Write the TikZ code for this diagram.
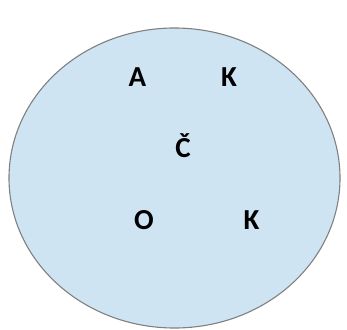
\documentclass[tikz,border=0pt]{standalone}
\usepackage{fontspec}
\setmainfont{Carlito}
\usetikzlibrary{positioning}
\definecolor{setfill}{RGB}{207,228,242}
\definecolor{setedge}{RGB}{128,128,128}
\tikzset{
  setoval/.style={draw=setedge, fill=setfill, line width=1.1pt},
  elem/.style={font=\fontsize{29}{32}\selectfont\bfseries, inner sep=0pt, anchor=base},
}
\begin{document}
\begin{tikzpicture}[x=1pt, y=-1pt]
    \useasboundingbox (0,0) rectangle (347,329);
    % set
    \draw[setoval] (174.5,178) ellipse [x radius=165.5, y radius=150];
    % elements
    \node[elem] (a)  at (137.5,86) {A};
    \node[elem] (k1) at (229,86)   {K};
    \node[elem] (c)  at (183,157)  {Č};
    \node[elem] (o)  at (144,229)  {O};
    \node[elem] (k2) at (251.5,229) {K};
\end{tikzpicture}
\end{document}
